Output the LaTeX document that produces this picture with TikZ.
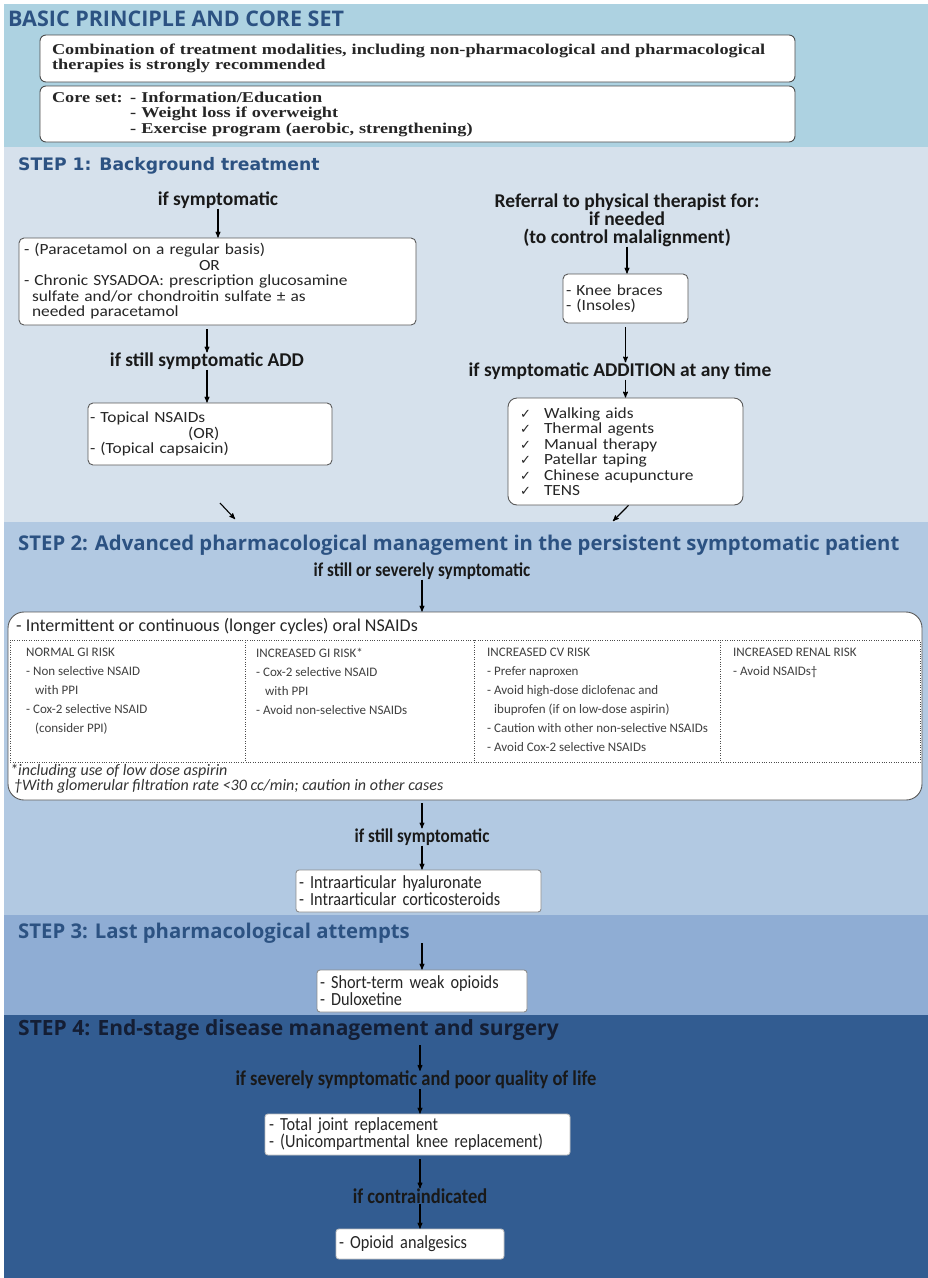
\documentclass[tikz,border=0pt]{standalone}
\usepackage{fontspec}
\setmainfont{Carlito}
\newfontfamily\headfont{Open Sans}
\newfontfamily\stepfont{DejaVu Sans}
\newfontfamily\symfont{DejaVu Sans}
\newfontfamily\corefont[FakeStretch=1.22]{Liberation Serif}
\newfontfamily\boxfont[FakeStretch=1.12]{Carlito}
\newfontfamily\condfont[FakeStretch=0.88]{Carlito}
\usepackage{tikz}
\usetikzlibrary{arrows, positioning, calc}
\definecolor{coreband}{RGB}{173,210,225}
\definecolor{oneband}{RGB}{214,225,236}
\definecolor{twoband}{RGB}{178,201,226}
\definecolor{threeband}{RGB}{143,173,212}
\definecolor{fourband}{RGB}{50,92,145}
\definecolor{titleblue}{RGB}{44,82,130}
\definecolor{darktitle}{RGB}{20,30,52}
\definecolor{boxline}{RGB}{90,90,90}
\newcommand{\chk}{\makebox[24pt][l]{\symfont\fontsize{13}{13}\selectfont ✓}}
\tikzset{
>=stealth',
flow/.style={->, line width=1.1pt, black},
box/.style={%
    rectangle,
    draw=boxline,
    fill=white,
    rounded corners=5pt,
    line width=0.9pt,
    align=left,
    inner xsep=5pt, inner ysep=0pt,
    text=black!85
},
corebox/.style={box, draw=black!70, rounded corners=6pt, inner xsep=12pt,
    font=\corefont\bfseries\fontsize{15}{15.5}\selectfont},
stepbox/.style={box, font=\boxfont\fontsize{15.5}{15.5}\selectfont},
lowbox/.style={box, draw=black!45, rounded corners=3pt, font=\condfont\fontsize{18.5}{17}\selectfont},
cond/.style={inner sep=0pt, align=center, text=black!90,
    font=\bfseries\fontsize{19.5}{18}\selectfont},
lowcond/.style={inner sep=0pt, align=center, text=black!90,
    font=\condfont\bfseries\fontsize{19.5}{19}\selectfont},
steptitle/.style={anchor=west, inner sep=0pt, text=titleblue,
    font=\headfont\bfseries\fontsize{20.3}{22}\selectfont},
risk/.style={anchor=north west, inner sep=0pt, align=left, text=black!75,
    font=\fontsize{13}{19}\selectfont},
note/.style={anchor=west, inner sep=0pt, text=black!80,
    font=\itshape\fontsize{16}{16}\selectfont},
}
\begin{document}
\begin{tikzpicture}[x=1pt, y=-1pt]
\useasboundingbox (0,0) rectangle (928,1278);
\fill[white] (0,0) rectangle (928,1278);
\fill[coreband] (4,4) rectangle (928,147);
\fill[oneband] (4,147) rectangle (928,522);
\fill[twoband] (4,522) rectangle (928,915);
\fill[threeband] (4,915) rectangle (928,1015);
\fill[fourband] (4,1015) rectangle (928,1278);

% basic principle and core set
\node[steptitle, font=\headfont\bfseries\fontsize{21.5}{22}\selectfont] (basic) at (8,19) {BASIC PRINCIPLE AND CORE SET};
\node[corebox, minimum width=755pt, minimum height=47pt, text width=731pt] (combi) at (417.5,58.5)
  {Combination of treatment modalities, including non-pharmacological and pharmacological\\therapies is strongly recommended};
\node[corebox, minimum width=755pt, minimum height=56pt, text width=731pt] (core) at (417.5,114)
  {Core set: - Information/Education\\\phantom{Core set: }- Weight loss if overweight\\\phantom{Core set: }- Exercise program (aerobic, strengthening)};

% step 1
\node[steptitle, font=\stepfont\bfseries\fontsize{17.2}{18}\selectfont] (s1) at (18,166) {STEP 1: Background treatment};
\node[cond] (sym) at (218,200) {if symptomatic};
\node[stepbox, minimum width=397pt, minimum height=87pt, text width=387pt] (para) at (217.5,281.5)
  {- (Paracetamol on a regular basis)\\\hspace*{175pt}OR\\- Chronic SYSADOA: prescription glucosamine\\\hspace*{8pt}sulfate and/or chondroitin sulfate ± as\\\hspace*{8pt}needed paracetamol};
\node[cond] (add) at (207,361) {if still symptomatic ADD};
\node[stepbox, inner xsep=2pt, minimum width=244pt, minimum height=62pt, text width=240pt] (topic) at (210,434)
  {- Topical NSAIDs\\\hspace*{98pt}(OR)\\- (Topical capsaicin)};
\node[cond, font=\bfseries\fontsize{19.5}{18}\selectfont] (refer) at (627,220)
  {Referral to physical therapist for:\\if needed\\(to control malalignment)};
\node[stepbox, inner xsep=3pt, minimum width=125pt, minimum height=49pt, text width=119pt] (knee) at (625.5,298.5)
  {- Knee braces\\- (Insoles)};
\node[cond] (addit) at (620,371) {if symptomatic ADDITION at any time};
\node[stepbox, rounded corners=9pt, inner xsep=12pt, minimum width=235pt, minimum height=107pt, text width=211pt] (aids) at (625.5,451.5)
  {\chk Walking aids\\\chk Thermal agents\\\chk Manual therapy\\\chk Patellar taping\\\chk Chinese acupuncture\\\chk TENS};
\coordinate (dl1) at (220,503);
\coordinate (dl2) at (235,519);
\coordinate (dr) at (613,521);

% step 2
\node[steptitle] (s2) at (18,545) {STEP 2: Advanced pharmacological management in the persistent symptomatic patient};
\node[lowcond] (sev) at (422,571) {if still or severely symptomatic};
\node[box, rounded corners=16pt, minimum width=914pt, minimum height=188pt] (oral) at (465,706) {};
\node[anchor=west, inner sep=0pt, text=black!85, font=\fontsize{18}{18}\selectfont] (inter) at (16,626)
  {- Intermittent or continuous (longer cycles) oral NSAIDs};
\draw[dotted, black!70] (10,640) rectangle (920,762);
\foreach \x in {245,474,720}
  \draw[dotted, black!70] (\x,640) -- (\x,762);
\node[risk] (normal) at (26,648) {NORMAL GI RISK\\- Non selective NSAID\\\hspace*{9pt}with PPI\\- Cox-2 selective NSAID\\\hspace*{9pt}(consider PPI)};
\node[risk] (gi) at (256,648) {INCREASED GI RISK*\\- Cox-2 selective NSAID\\\hspace*{9pt}with PPI\\- Avoid non-selective NSAIDs};
\node[risk] (cv) at (487,648) {INCREASED CV RISK\\- Prefer naproxen\\- Avoid high-dose diclofenac and\\\hspace*{7pt}ibuprofen (if on low-dose aspirin)\\- Caution with other non-selective NSAIDs\\- Avoid Cox-2 selective NSAIDs};
\node[risk] (renal) at (733,648) {INCREASED RENAL RISK\\- Avoid NSAIDs\textdagger};
\node[note] (n1) at (10,771) {*including use of low dose aspirin};
\node[note] (n2) at (14,786) {\textdagger With glomerular filtration rate <30 cc/min; caution in other cases};
\node[lowcond] (still) at (422,837) {if still symptomatic};
\node[lowbox, inner xsep=3pt, minimum width=245pt, minimum height=42pt, text width=239pt] (intra) at (418.5,891)
  {- Intraarticular hyaluronate\\- Intraarticular corticosteroids};

% step 3
\node[steptitle] (s3) at (18,933) {STEP 3: Last pharmacological attempts};
\coordinate (s3top) at (422,943);
\node[lowbox, inner xsep=3pt, minimum width=210pt, minimum height=42pt, text width=204pt] (weak) at (422,991)
  {- Short-term weak opioids\\- Duloxetine};

% step 4
\node[steptitle, text=darktitle, font=\headfont\bfseries\fontsize{21}{22}\selectfont] (s4) at (18,1030) {STEP 4: End-stage disease management and surgery};
\coordinate (s4top) at (420,1045);
\node[lowcond, font=\condfont\bfseries\fontsize{21}{21}\selectfont] (poor) at (416,1080) {if severely symptomatic and poor quality of life};
\node[lowbox, draw=black!25, inner xsep=4pt, minimum width=305pt, minimum height=41pt, text width=297pt] (joint) at (417.5,1134.5)
  {- Total joint replacement\\- (Unicompartmental knee replacement)};
\node[lowcond, font=\condfont\bfseries\fontsize{21}{21}\selectfont] (contra) at (420,1196) {if contraindicated};
\node[lowbox, draw=black!25, inner xsep=3pt, minimum width=168pt, minimum height=30pt, text width=162pt] (opio) at (420,1244)
  {- Opioid analgesics};

\draw[flow] (sym.south) -- (sym.south |- para.north);
\draw[flow, shorten <=4pt] (para.south -| add.north) -- (add.north);
\draw[flow] (add.south) -- (add.south |- topic.north);
\draw[flow] (refer.south) -- (refer.south |- knee.north);
\draw[flow, shorten <=4pt] (knee.south) -- (knee.south |- addit.north);
\draw[flow] (addit.south -| aids.north) -- (aids.north);
\draw[flow] (dl1) -- (dl2);
\draw[flow] ([xshift=3pt]aids.south) -- (dr);
\draw[flow] (sev.south) -- (sev.south |- oral.north);
\draw[flow, shorten <=3pt] (oral.south -| still.north) -- (still.north);
\draw[flow] (still.south) -- (still.south |- intra.north);
\draw[flow] (s3top) -- (s3top |- weak.north);
\draw[flow] (s4top) -- (s4top |- poor.north);
\draw[flow] (s4top |- poor.south) -- (s4top |- joint.north);
\draw[flow, shorten <=4pt] (s4top |- joint.south) -- (s4top |- contra.north);
\draw[flow] (s4top |- contra.south) -- (s4top |- opio.north);
\end{tikzpicture}
\end{document}
